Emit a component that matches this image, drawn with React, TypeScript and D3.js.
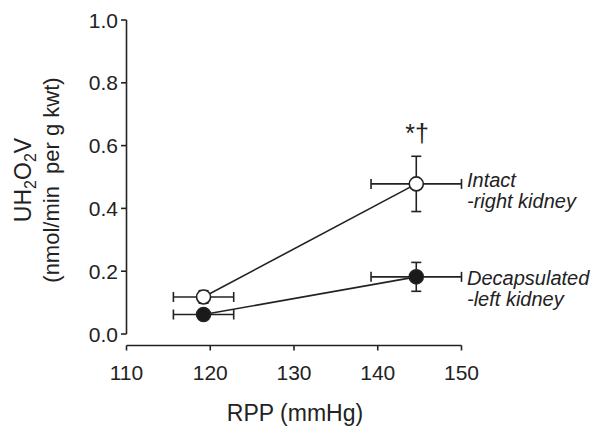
import React from "react";
import * as d3 from "d3";

const rpp = [119.2, 144.6];
const rppErr = [3.6, 5.4];
const intact = [0.118, 0.478];
const intactErr = [0.02, 0.088];
const decap = [0.062, 0.182];
const decapErr = [0.006, 0.046];
const xTicks = [110, 120, 130, 140, 150];
const yTicks = [0, 0.2, 0.4, 0.6, 0.8, 1.0];

const font = "Liberation Sans, Arial, sans-serif";

export default function App() {
  const x = d3.scaleLinear().domain([110, 150]).range([126.5, 461.5]);
  const y = d3.scaleLinear().domain([0, 1]).range([334, 20]);
  const axisY = 345.5;
  const line = d3.line<number>().x((_, i) => x(rpp[i])).y((d) => y(d));

  const series = [
    { vals: intact, err: intactErr, fill: "#fff" },
    { vals: decap, err: decapErr, fill: "#1a1a1a" },
  ];
  const cap = 5;

  return (
    <svg width={600} height={434} style={{ position: "absolute", left: 0, top: 0, background: "#fff" }}>
      <g stroke="#222" strokeWidth={1.6} fill="none">
        <line x1={126.5} x2={126.5} y1={y(1)} y2={y(0)} />
        {yTicks.map((t) => (
          <line key={t} x1={121} x2={126.5} y1={y(t)} y2={y(t)} />
        ))}
        <line x1={x(110)} x2={x(150)} y1={axisY} y2={axisY} />
        {xTicks.map((t) => (
          <line key={t} x1={x(t)} x2={x(t)} y1={axisY} y2={axisY + 5} />
        ))}
      </g>
      <g fontFamily={font} fontSize={21} fill="#222">
        {yTicks.map((t) => (
          <text key={t} x={118} y={y(t)} dy="0.36em" textAnchor="end">{t.toFixed(1)}</text>
        ))}
        {xTicks.map((t) => (
          <text key={t} x={x(t)} y={380} textAnchor="middle">{t}</text>
        ))}
        <text x={295} y={421} textAnchor="middle" fontSize={23}>RPP (mmHg)</text>
        <text transform="translate(31,180) rotate(-90)" textAnchor="middle" fontSize={23}>
          UH<tspan fontSize={16} dy={5}>2</tspan><tspan dy={-5}>O</tspan><tspan fontSize={16} dy={5}>2</tspan><tspan dy={-5}>V</tspan>
        </text>
        <text transform="translate(59,180) rotate(-90)" textAnchor="middle" fontSize={22} style={{ whiteSpace: "pre" }}>(nmol/min  per g kwt)</text>
      </g>
      {series.map((s, si) => (
        <g key={si}>
          <path d={line(s.vals) || ""} stroke="#222" strokeWidth={1.6} fill="none" />
          {s.vals.map((v, i) => {
            const cx = x(rpp[i]);
            const cy = y(v);
            const xl = x(rpp[i] - rppErr[i]);
            const xr = x(rpp[i] + rppErr[i]);
            const yt = y(v + s.err[i]);
            const yb = y(v - s.err[i]);
            return (
              <g key={i} stroke="#222" strokeWidth={1.6}>
                <line x1={xl} x2={xr} y1={cy} y2={cy} />
                <line x1={xl} x2={xl} y1={cy - cap} y2={cy + cap} />
                <line x1={xr} x2={xr} y1={cy - cap} y2={cy + cap} />
                <line x1={cx} x2={cx} y1={yt} y2={yb} />
                <line x1={cx - cap} x2={cx + cap} y1={yt} y2={yt} />
                <line x1={cx - cap} x2={cx + cap} y1={yb} y2={yb} />
                <circle cx={cx} cy={cy} r={7} fill={s.fill} strokeWidth={1.6} />
              </g>
            );
          })}
        </g>
      ))}
      <g fontFamily={font} fontSize={20} fontStyle="italic" fill="#222">
        <text x={467} y={187}>Intact</text>
        <text x={467} y={208}>-right kidney</text>
        <text x={467} y={285}>Decapsulated</text>
        <text x={467} y={306}>-left kidney</text>
      </g>
      <text x={417} y={142} textAnchor="middle" fontFamily={font} fontSize={25} fill="#222">*†</text>
    </svg>
  );
}
